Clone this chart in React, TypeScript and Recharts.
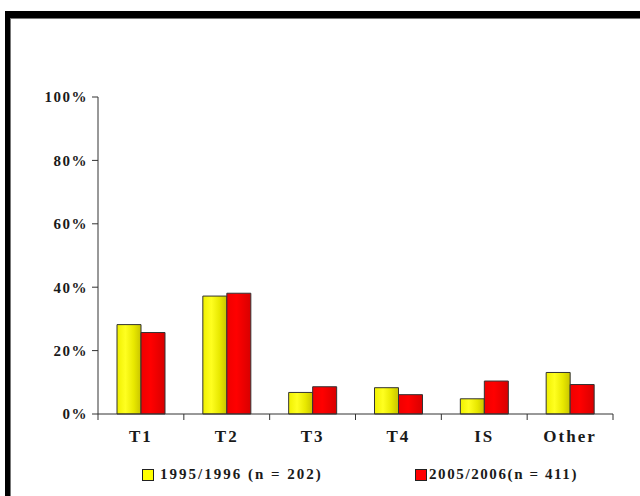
import React from "react";
import { BarChart, Bar, XAxis, YAxis, Legend } from "recharts";

const categories = ["T1", "T2", "T3", "T4", "IS", "Other"];
const series1995 = [28.2, 37.2, 6.8, 8.3, 4.8, 13.1];
const series2005 = [25.7, 38.1, 8.6, 6.1, 10.4, 9.3];
const yTicks = [0, 20, 40, 60, 80, 100];
const boundaryTicks = [0, 1, 2, 3, 4, 5, 6];
const seriesNames = ["1995/1996 (n = 202)", "2005/2006(n = 411)"];
const seriesColors = ["#ffff00", "#ff0000"];

const data = categories.map((c, i) => ({
  name: c,
  a: series1995[i],
  b: series2005[i],
  pos: i + 0.5,
}));

const FONT = "Liberation Serif";

const LegendContent = (props: any) => {
  const payload = props.payload || [];
  const lefts = [142, 415];
  return (
    <div style={{ position: "relative", width: 640, height: 20 }}>
      {payload.map((p: any, i: number) => (
        <div
          key={i}
          style={{
            position: "absolute",
            left: lefts[i],
            top: 0,
            display: "flex",
            alignItems: "center",
            fontFamily: FONT,
            fontWeight: "bold",
            fontSize: 15,
            letterSpacing: i === 0 ? 2 : 1.6,
            color: "#1a1a1a",
          }}
        >
          <span
            style={{
              display: "inline-block",
              width: 10,
              height: 10,
              background: seriesColors[i],
              border: "1px solid #222",
              marginRight: i === 0 ? 6 : 2,
            }}
          />
          <span>{p.value}</span>
        </div>
      ))}
    </div>
  );
};

export default function App() {
  return (
    <div style={{ position: "absolute", left: 0, top: 0, width: 640, height: 496, background: "#fff" }}>
      <div style={{ position: "absolute", left: 5, top: 11, width: 635, height: 7, background: "#000" }} />
      <div style={{ position: "absolute", left: 5, top: 11, width: 5, height: 485, background: "#000" }} />
      <div style={{ position: "absolute", left: 10, top: 18, width: 630, height: 1, background: "#777" }} />
      <div style={{ position: "absolute", left: 10, top: 18, width: 1, height: 478, background: "#777" }} />
      <div style={{ position: "absolute", left: 0, top: 0 }}>
        <BarChart
          width={640}
          height={496}
          data={data}
          margin={{ top: 97, right: 27, left: 38, bottom: 31 }}
          barGap={0}
          barSize={24}
        >
          <defs>
            <linearGradient id="gYellow" x1="0" y1="0" x2="1" y2="0">
              <stop offset="0%" stopColor="#f0f000" />
              <stop offset="35%" stopColor="#ffff20" />
              <stop offset="70%" stopColor="#e8e800" />
              <stop offset="100%" stopColor="#c8c400" />
            </linearGradient>
            <linearGradient id="gRed" x1="0" y1="0" x2="1" y2="0">
              <stop offset="0%" stopColor="#f00000" />
              <stop offset="40%" stopColor="#ff0000" />
              <stop offset="100%" stopColor="#d80000" />
            </linearGradient>
          </defs>
          <XAxis
            xAxisId="a"
            type="number"
            dataKey="pos"
            domain={[0, 6]}
            ticks={boundaryTicks}
            allowDataOverflow
            axisLine={{ stroke: "#333" }}
            tickLine={{ stroke: "#333" }}
            tickSize={6}
            tickFormatter={() => ""}
            height={1}
            padding={{ left: 0, right: 0 }}
          />
          <XAxis
            dataKey="name"
            xAxisId="b"
            axisLine={false}
            tickLine={false}
            tickMargin={9}
            height={30}
            tick={{ fontFamily: FONT, fontWeight: "bold", fontSize: 17, fill: "#1a1a1a", letterSpacing: 2 }}
          />
          <YAxis
            domain={[0, 100]}
            ticks={yTicks}
            width={60}
            axisLine={{ stroke: "#333" }}
            tickLine={{ stroke: "#333" }}
            tickSize={6}
            tickMargin={4}
            tickFormatter={(v: number) => `${v}%`}
            tick={{ fontFamily: FONT, fontWeight: "bold", fontSize: 15, fill: "#1a1a1a", letterSpacing: 1.5 }}
          />
          <Legend verticalAlign="bottom" align="left" wrapperStyle={{ left: 0, bottom: 10 }} content={<LegendContent />} />
          <Bar xAxisId="b" dataKey="a" name={seriesNames[0]} fill="url(#gYellow)" stroke="#333" strokeWidth={1} isAnimationActive={false} legendType="square" />
          <Bar xAxisId="b" dataKey="b" name={seriesNames[1]} fill="url(#gRed)" stroke="#333" strokeWidth={1} isAnimationActive={false} legendType="square" />
        </BarChart>
      </div>
    </div>
  );
}
